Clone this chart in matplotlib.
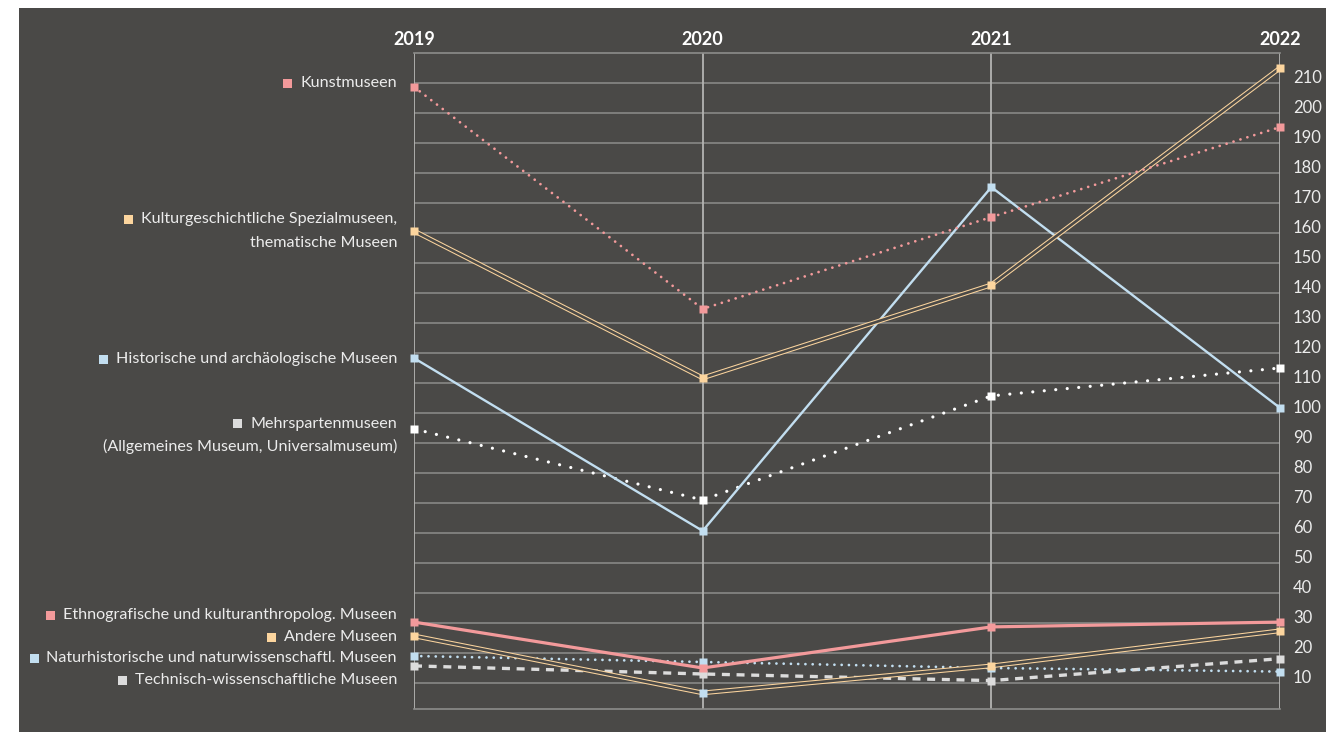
import matplotlib
matplotlib.use("Agg")
import matplotlib.pyplot as plt
import matplotlib.transforms as mtransforms
from matplotlib.patches import Rectangle

# ---------------- data ----------------
years = [2019, 2020, 2021, 2022]
year_labels = ["2019", "2020", "2021", "2022"]

kunst = [208.7, 134.7, 165.3, 195.3]
kulturgesch = [160.7, 111.7, 142.7, 215.0]
historisch = [118.3, 60.7, 175.3, 101.7]
mehrsparten = [94.7, 71.0, 105.7, 115.0]
ethno = [30.3, 15.0, 28.7, 30.3]
andere = [25.7, 6.7, 15.7, 27.4]
naturhist = [19.0, 17.0, 15.0, 13.8]
technisch = [15.7, 13.0, 10.8, 18.1]

ytick_values = list(range(10, 220, 10))

# ---------------- style ----------------
W, H = 1326, 732
BG = "#4a4947"
PINK = "#f39a9b"
PEACH = "#fcd59e"
BLUE = "#c2def0"
WHITE = "#ffffff"
LGRAY = "#dcdcdc"
TXT = "#ececec"
HGRID = "#8d8d8b"
VGRID = "#b4b4b2"
FONT = "Lato"

plt.rcParams["font.family"] = [FONT, "DejaVu Sans"]

fig = plt.figure(figsize=(W / 100, H / 100), dpi=100)
fig.patch.set_facecolor("white")
fig.patches.append(Rectangle((19 / W, 0), 1 - 19 / W, (H - 8) / H,
                             transform=fig.transFigure, facecolor=BG,
                             edgecolor="none", zorder=-10))

def fx(px):
    return px / W

def fy(py):
    return (H - py) / H

ax = fig.add_axes([fx(414), fy(709), fx(1280) - fx(414), fy(53) - fy(709)])
ax.set_facecolor("none")
ax.set_xlim(2019, 2022)
ax.set_ylim(1.33, 220)

# grid
for v in ytick_values:
    ax.axhline(v, color=HGRID, lw=1.1, zorder=0)
for y in years:
    ax.axvline(y, color=VGRID, lw=1.3, zorder=0)
for side in ["top", "bottom"]:
    ax.spines[side].set_color(HGRID)
    ax.spines[side].set_linewidth(1.2)
for side in ["left", "right"]:
    ax.spines[side].set_visible(False)

# ticks
ax.xaxis.tick_top()
ax.set_xticks(years)
ax.set_xticklabels(year_labels, fontsize=13, fontweight="bold", color=WHITE)
ax.tick_params(axis="x", length=0, pad=3.5)
ax.yaxis.tick_right()
ax.set_yticks(ytick_values)
ax.set_yticklabels([str(v) for v in ytick_values], fontsize=12, color=TXT)
ax.tick_params(axis="y", length=0, pad=9.3)
off = mtransforms.ScaledTranslation(0, 0.06, fig.dpi_scale_trans)
for lab in ax.get_yticklabels():
    lab.set_transform(lab.get_transform() + off)
    lab.set_horizontalalignment("left")

MS = 6.2

def markers(vals, color, z):
    ax.plot(years, vals, ls="none", marker="s", ms=MS, mfc=color, mec="none",
            clip_on=False, zorder=z)

def double_line(vals, z):
    ax.plot(years, vals, color=PEACH, lw=3.4, solid_joinstyle="miter",
            clip_on=False, zorder=z)
    ax.plot(years, vals, color=BG, lw=1.9, solid_joinstyle="miter",
            clip_on=False, zorder=z + 0.01)

# Technisch-wissenschaftliche (dashed gray)
ax.plot(years, technisch, color=LGRAY, lw=2.4, ls=(0, (2.4, 2.0)),
        clip_on=False, zorder=3)
markers(technisch, LGRAY, 3.1)
# Naturhistorische (dotted blue)
ax.plot(years, naturhist, color=BLUE, lw=2.0, ls=(0, (0.01, 2.6)),
        dash_capstyle="round", clip_on=False, zorder=3.2)
markers(naturhist, BLUE, 3.3)
# Andere (double peach)
double_line(andere, 3.4)
ax.plot(years, andere, ls="none", marker="s", ms=MS, mfc=PEACH, mec="none",
        clip_on=False, zorder=3.5, markevery=[0, 2, 3])
ax.plot(years, andere, ls="none", marker="s", ms=MS, mfc=BLUE, mec="none",
        clip_on=False, zorder=3.5, markevery=[1])
# Ethnografische (solid pink)
ax.plot(years, ethno, color=PINK, lw=2.3, clip_on=False, zorder=3.6)
markers(ethno, PINK, 3.7)
# Mehrsparten (white sparse dots)
ax.plot(years, mehrsparten, color=WHITE, lw=2.3, ls=(0, (0.01, 3.6)),
        dash_capstyle="round", clip_on=False, zorder=3.8)
markers(mehrsparten, WHITE, 3.9)
# Historische (solid blue)
ax.plot(years, historisch, color=BLUE, lw=1.7, clip_on=False, zorder=4.0)
markers(historisch, BLUE, 4.1)
# Kulturgeschichtliche (double peach)
double_line(kulturgesch, 4.2)
markers(kulturgesch, PEACH, 4.3)
# Kunstmuseen (dotted pink)
ax.plot(years, kunst, color=PINK, lw=2.0, ls=(0, (0.01, 2.6)),
        dash_capstyle="round", clip_on=False, zorder=4.4)
markers(kunst, PINK, 4.5)

# ---------------- left labels ----------------
labels = [
    (["Kunstmuseen"], PINK, [83]),
    (["Kulturgeschichtliche Spezialmuseen,", "thematische Museen"], PEACH, [219, 243]),
    (["Historische und archäologische Museen"], BLUE, [359]),
    (["Mehrspartenmuseen", "(Allgemeines Museum, Universalmuseum)"], LGRAY, [424, 446]),
    (["Ethnografische und kulturanthropolog. Museen"], PINK, [615]),
    (["Andere Museen"], PEACH, [637]),
    (["Naturhistorische und naturwissenschaftl. Museen"], BLUE, [658]),
    (["Technisch-wissenschaftliche Museen"], LGRAY, [680]),
]
TEXT_RIGHT = 397
fig.canvas.draw()
renderer = fig.canvas.get_renderer()
for lines, col, ys in labels:
    first = None
    for i, (ln, py) in enumerate(zip(lines, ys)):
        t = fig.text(fx(TEXT_RIGHT), fy(py), ln, ha="right", va="center",
                     fontsize=11.6, color=TXT)
        if i == 0:
            first = t
    bb = first.get_window_extent(renderer=renderer)
    left_px = bb.x0
    sq = 9
    fig.patches.append(Rectangle(((left_px - 8 - sq) / W, fy(ys[0]) - (sq / 2) / H),
                                 sq / W, sq / H, transform=fig.transFigure,
                                 facecolor=col, edgecolor="none"))

fig.savefig("out.png", dpi=100, facecolor=fig.get_facecolor())
